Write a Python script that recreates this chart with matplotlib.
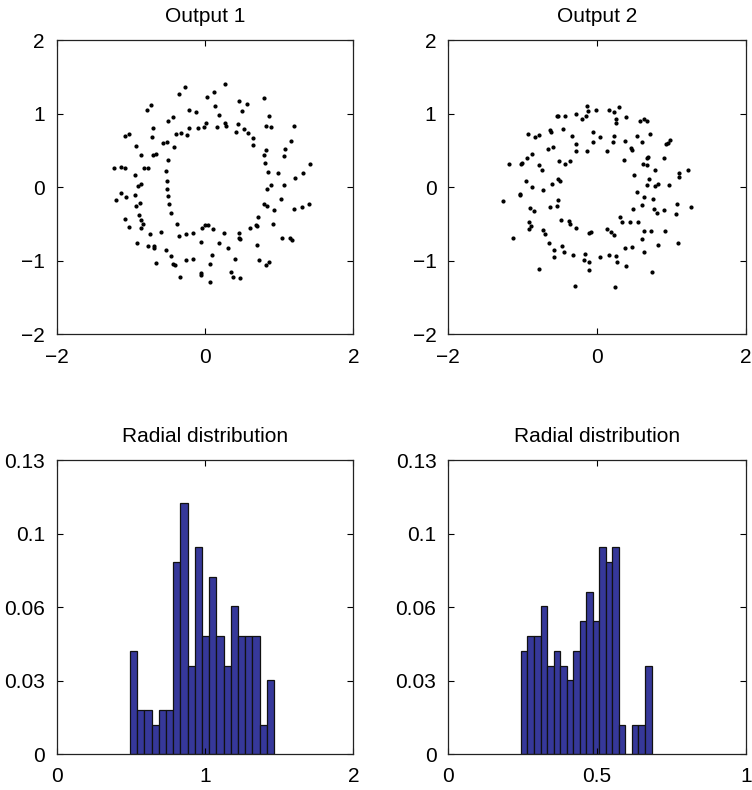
import numpy as np
import matplotlib
matplotlib.use("Agg")
import matplotlib.pyplot as plt

plt.rcParams['font.family'] = ['Liberation Sans', 'DejaVu Sans']
plt.rcParams['font.size'] = 15

# ---- Output 1 scatter points (x, y) ----
out1_pts = [
    (0.270, 1.403), (-0.265, 1.367), (-0.355, 1.262), (0.121, 1.290), (0.031, 1.222),
    (0.791, 1.217), (0.463, 1.176), (0.562, 1.131), (-0.728, 1.117), (-0.778, 1.049),
    (-0.211, 1.045), (-0.121, 1.018), (0.135, 1.104), (0.494, 1.031), (0.184, 0.981),
    (0.863, 0.972), (-0.427, 0.954), (-0.499, 0.900), (0.013, 0.873), (0.265, 0.877),
    (0.279, 0.836), (0.157, 0.818), (-0.211, 0.809), (-0.099, 0.809), (-0.009, 0.814),
    (0.450, 0.859), (0.823, 0.836), (0.895, 0.823), (1.200, 0.827), (-0.706, 0.800),
    (-1.029, 0.728), (-1.083, 0.691), (-0.719, 0.687), (-0.391, 0.723), (-0.324, 0.732),
    (-0.247, 0.710), (0.414, 0.746), (0.530, 0.791), (0.575, 0.732), (0.652, 0.669),
    (1.164, 0.633), (-0.562, 0.596), (-0.508, 0.610), (-0.414, 0.546), (0.647, 0.578),
    (-0.931, 0.560), (0.827, 0.510), (1.083, 0.524), (-0.868, 0.438), (-0.706, 0.442),
    (-0.661, 0.447), (-0.499, 0.370), (0.791, 0.442), (1.065, 0.424), (0.814, 0.329),
    (1.412, 0.315), (-1.227, 0.261), (-1.137, 0.275), (-1.079, 0.261), (-0.827, 0.256),
    (-0.773, 0.261), (-0.521, 0.220), (0.850, 0.202), (0.989, 0.198), (1.322, 0.198),
    (-0.949, 0.161), (1.218, 0.130), (-0.517, 0.084), (-0.908, 0.021), (-0.859, 0.039),
    (-0.512, -0.020), (0.886, 0.034), (1.070, 0.025), (0.841, -0.024), (-1.128, -0.079),
    (-1.200, -0.169), (-1.061, -0.138), (-0.949, -0.111), (-0.494, -0.115), (-0.881, -0.219),
    (-0.926, -0.251), (-0.486, -0.224), (0.791, -0.224), (0.832, -0.260), (1.020, -0.156),
    (1.200, -0.296), (1.313, -0.265), (1.403, -0.233), (0.931, -0.310), (-0.459, -0.351),
    (-1.083, -0.428), (-0.886, -0.382), (-0.859, -0.446), (-0.836, -0.500), (-0.859, -0.550),
    (-1.029, -0.536), (0.710, -0.401), (-0.382, -0.496), (0.004, -0.509), (0.036, -0.518),
    (-0.045, -0.550), (0.112, -0.568), (0.683, -0.518), (0.706, -0.532), (0.607, -0.555),
    (0.922, -0.505), (-0.746, -0.636), (-0.593, -0.613), (-0.346, -0.659), (-0.252, -0.636),
    (-0.157, -0.618), (0.252, -0.623), (0.454, -0.623), (-0.054, -0.740), (0.193, -0.763),
    (0.310, -0.822), (0.454, -0.695), (0.472, -0.700), (1.034, -0.686), (1.146, -0.686),
    (1.178, -0.718), (-0.922, -0.754), (-0.764, -0.795), (-0.688, -0.795), (-0.683, -0.831),
    (-0.526, -0.849), (0.706, -0.786), (-0.463, -0.935), (-0.252, -0.990), (-0.166, -0.971),
    (0.094, -0.922), (0.400, -0.976), (0.733, -0.990), (0.859, -1.021), (0.823, -1.058),
    (-0.665, -1.030), (-0.436, -1.044), (-0.409, -1.058), (0.067, -1.039), (-0.049, -1.162),
    (-0.058, -1.198), (0.351, -1.153), (0.378, -1.221), (0.477, -1.230), (-0.333, -1.216),
    (0.063, -1.284),
]

# ---- Output 2 scatter points (x, y) ----
out2_pts = [
    (-0.136, 1.108), (-0.127, 1.031), (-0.154, 0.968), (-0.199, 0.923), (-0.280, 0.995),
    (-0.015, 1.045), (0.155, 1.049), (0.231, 1.022), (0.289, 1.090), (0.249, 0.927),
    (0.249, 0.868), (0.383, 0.959), (0.580, 0.904), (0.625, 0.923), (0.670, 0.900),
    (-0.544, 0.968), (-0.526, 0.968), (-0.432, 0.968), (-0.634, 0.778), (-0.625, 0.750),
    (-0.463, 0.787), (-0.929, 0.723), (-0.840, 0.687), (-0.782, 0.714), (-0.343, 0.700),
    (-0.056, 0.750), (0.038, 0.687), (0.222, 0.696), (0.213, 0.619), (-0.056, 0.610),
    (-0.284, 0.587), (-0.284, 0.497), (-0.132, 0.492), (0.128, 0.492), (0.379, 0.623),
    (0.531, 0.700), (0.598, 0.614), (0.706, 0.728), (0.450, 0.537), (0.473, 0.510),
    (0.925, 0.587), (0.952, 0.596), (0.984, 0.646), (-0.661, 0.524), (-0.589, 0.542),
    (-0.871, 0.456), (-0.938, 0.392), (-1.006, 0.333), (-1.019, 0.315), (-1.189, 0.311),
    (-0.777, 0.302), (-0.746, 0.238), (-0.513, 0.356), (-0.437, 0.311), (-0.365, 0.361),
    (0.356, 0.374), (0.612, 0.311), (0.670, 0.392), (0.683, 0.411), (0.675, 0.302),
    (0.773, 0.238), (0.903, 0.397), (1.096, 0.188), (1.096, 0.134), (1.217, 0.229),
    (0.495, 0.170), (0.701, 0.111), (0.666, 0.030), (0.778, 0.016), (0.822, 0.043),
    (0.966, 0.034), (-0.956, 0.084), (-0.871, -0.002), (-0.732, -0.034), (-0.607, 0.048),
    (-0.522, 0.116), (-0.495, 0.080), (-1.041, -0.092), (-1.032, -0.111), (-1.270, -0.188),
    (-0.526, -0.179), (-0.634, -0.269), (-0.544, -0.256), (0.536, -0.065), (0.625, -0.133),
    (0.746, -0.160), (0.607, -0.242), (0.477, -0.296), (0.760, -0.301), (0.800, -0.351),
    (0.903, -0.310), (1.078, -0.228), (1.064, -0.360), (1.257, -0.269), (-0.903, -0.278),
    (-0.844, -0.328), (0.307, -0.401), (0.334, -0.473), (0.437, -0.468), (0.545, -0.478),
    (-0.481, -0.441), (-0.383, -0.459), (-0.360, -0.496), (-0.289, -0.559), (-0.912, -0.468),
    (-0.894, -0.532), (-0.916, -0.573), (-0.732, -0.582), (-0.696, -0.636), (-0.110, -0.627),
    (-0.083, -0.613), (0.132, -0.573), (0.182, -0.604), (0.226, -0.645), (0.625, -0.600),
    (0.728, -0.600), (0.907, -0.600), (0.603, -0.704), (-1.131, -0.691), (-0.652, -0.758),
    (-0.472, -0.799), (-0.584, -0.849), (-0.446, -0.881), (-0.584, -0.944), (-0.320, -0.917),
    (-0.168, -0.913), (-0.172, -0.994), (-0.110, -1.017), (-0.110, -1.126), (0.038, -0.944),
    (0.159, -0.917), (0.249, -0.935), (0.262, -1.017), (0.374, -0.826), (0.468, -0.808),
    (0.625, -0.881), (0.813, -0.790), (1.091, -0.758), (0.392, -1.067), (0.733, -1.153),
    (-0.786, -1.107), (-0.302, -1.343), (0.235, -1.361),
]

# ---- Radial distribution histograms (relative frequency per bin) ----
hist1_lo, hist1_hi = 0.494, 1.465
hist1_vals = [0.0458, 0.0196, 0.0196, 0.0131, 0.0196, 0.0196, 0.0850, 0.1112, 0.0392, 0.0916,
              0.0523, 0.0785, 0.0523, 0.0392, 0.0654, 0.0523, 0.0523, 0.0523, 0.0131, 0.0327]
hist2_lo, hist2_hi = 0.2442, 0.6830
hist2_vals = [0.0458, 0.0523, 0.0523, 0.0654, 0.0392, 0.0458, 0.0392, 0.0327, 0.0458, 0.0589,
              0.0719, 0.0589, 0.0916, 0.0850, 0.0916, 0.0131, 0.0, 0.0131, 0.0131, 0.0392]

hist_yticks = [0, 0.0325, 0.065, 0.0975, 0.13]
hist_yticklabels = ['0', '0.03', '0.06', '0.1', '0.13']

FS = 15

fig = plt.figure(figsize=(7.52, 7.9), dpi=100)

H = 0.3725
ax1 = fig.add_axes([0.0755, 0.5768, 0.3945, H])
ax2 = fig.add_axes([0.5961, 0.5768, 0.3958, H])
ax3 = fig.add_axes([0.0755, 0.0452, 0.3945, H])
ax4 = fig.add_axes([0.5961, 0.0452, 0.3958, H])

def style(ax):
    ax.tick_params(direction='in', top=True, right=True, length=4, width=0.8,
                   labelsize=FS, colors='black')
    ax.tick_params(axis='x', pad=9.5)
    ax.tick_params(axis='y', pad=8.5)
    for s in ax.spines.values():
        s.set_linewidth(0.9)
        s.set_color('#222222')

for ax, pts, title in [(ax1, out1_pts, 'Output 1'), (ax2, out2_pts, 'Output 2')]:
    xs = [p[0] for p in pts]
    ys = [p[1] for p in pts]
    ax.plot(xs, ys, '.', color='black', markersize=4)
    ax.set_xlim(-2, 2)
    ax.set_ylim(-2, 2)
    ax.set_xticks([-2, 0, 2])
    ax.set_xticklabels(['\u22122', '0', '2'])
    ax.set_yticks([-2, -1, 0, 1, 2])
    ax.set_yticklabels(['\u22122', '\u22121', '0', '1', '2'])
    ax.set_title(title, fontsize=FS, pad=13)
    style(ax)

bar_color = '#36389a'
for ax, lo, hi, vals, xlim, xticks, xtl in [
        (ax3, hist1_lo, hist1_hi, hist1_vals, (0, 2), [0, 1, 2], ['0', '1', '2']),
        (ax4, hist2_lo, hist2_hi, hist2_vals, (0, 1), [0, 0.5, 1], ['0', '0.5', '1'])]:
    edges = np.linspace(lo, hi, len(vals) + 1)
    ax.bar(edges[:-1], vals, width=np.diff(edges), align='edge',
           color=bar_color, edgecolor='#111111', linewidth=0.9)
    ax.set_xlim(*xlim)
    ax.set_ylim(0, 0.13)
    ax.set_xticks(xticks)
    ax.set_xticklabels(xtl)
    ax.set_yticks(hist_yticks)
    ax.set_yticklabels(hist_yticklabels)
    ax.set_title('Radial distribution', fontsize=FS, pad=13)
    style(ax)

fig.savefig('out.png', dpi=100)
